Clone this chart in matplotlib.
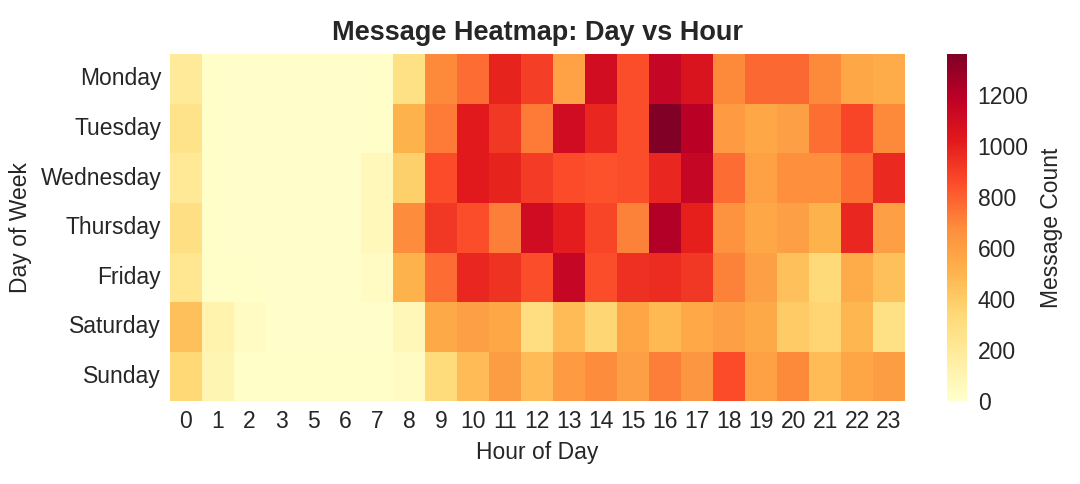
import numpy as np
import pandas as pd
import matplotlib
matplotlib.use("Agg")
import matplotlib.pyplot as plt
import seaborn as sns

# ---------- Data ---------- #
days = ["Monday", "Tuesday", "Wednesday", "Thursday", "Friday", "Saturday", "Sunday"]
hours = [0, 1, 2, 3, 5, 6, 7, 8, 9, 10, 11, 12, 13, 14, 15, 16, 17, 18, 19, 20, 21, 22, 23]

monday = [200, 15, 10, 10, 10, 10, 12, 280, 690, 770, 990, 900, 580, 1100, 850, 1150, 1060, 690, 780, 780, 690, 560, 540]
tuesday = [260, 15, 10, 10, 10, 10, 12, 510, 730, 1020, 920, 730, 1110, 980, 850, 1360, 1190, 620, 560, 600, 760, 880, 690]
wednesday = [210, 20, 10, 10, 10, 10, 70, 380, 860, 1030, 990, 910, 860, 840, 850, 980, 1150, 770, 590, 670, 670, 760, 970]
thursday = [290, 20, 10, 10, 10, 10, 70, 680, 920, 850, 720, 1110, 1010, 880, 710, 1220, 1000, 650, 560, 600, 510, 980, 600]
friday = [230, 15, 12, 10, 10, 10, 40, 510, 770, 980, 940, 850, 1150, 850, 950, 960, 920, 710, 600, 450, 330, 540, 450]
saturday = [450, 120, 40, 10, 10, 10, 10, 80, 550, 600, 560, 300, 470, 350, 570, 480, 555, 600, 550, 400, 360, 490, 280]
sunday = [340, 100, 15, 15, 15, 15, 15, 40, 320, 470, 610, 470, 620, 680, 600, 720, 640, 860, 590, 690, 470, 570, 610]

counts = pd.DataFrame([monday, tuesday, wednesday, thursday, friday, saturday, sunday],
                      index=days, columns=hours)

# ---------- Plot ---------- #
sns.set_style("white")
plt.rcParams['font.family'] = ['Liberation Sans', 'DejaVu Sans']
plt.rcParams['text.color'] = '#262626'
plt.rcParams['axes.labelcolor'] = '#262626'
plt.rcParams['xtick.color'] = '#262626'
plt.rcParams['ytick.color'] = '#262626'

fs = 16.5
fig = plt.figure(figsize=(10.8, 4.84), dpi=100)
ax = fig.add_axes([0.157, 0.171, 0.681, 0.717])
cax = fig.add_axes([0.877, 0.171, 0.018, 0.717])
sns.heatmap(counts, cmap="YlOrRd", vmin=0, ax=ax, cbar_ax=cax,
            cbar_kws={"label": "Message Count"})

ax.set_title("Message Heatmap: Day vs Hour", fontsize=19.5, fontweight="bold", pad=10)
ax.set_xlabel("Hour of Day", fontsize=fs, labelpad=6)
ax.set_ylabel("Day of Week", fontsize=fs, labelpad=6)
ax.tick_params(axis="both", labelsize=fs, length=0, pad=6)
plt.setp(ax.get_yticklabels(), rotation=0)
plt.setp(ax.get_xticklabels(), rotation=0)

cbar = ax.collections[0].colorbar
cbar.ax.tick_params(labelsize=fs, length=0, pad=8)
cbar.set_label("Message Count", fontsize=fs, labelpad=8)
cbar.outline.set_visible(False)

plt.savefig("out.png")
